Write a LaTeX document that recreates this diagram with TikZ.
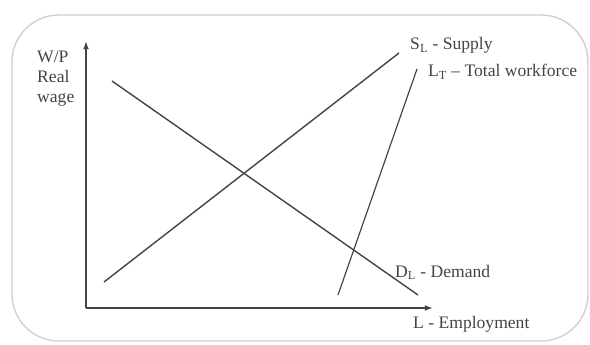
\documentclass[tikz,border=0pt]{standalone}
\usepackage{fontspec}
\setmainfont{Liberation Serif}
\usetikzlibrary{arrows.meta}
\definecolor{inkgray}{HTML}{444444}
\definecolor{framegray}{HTML}{D0D0D0}
\tikzset{
  curveline/.style={draw=inkgray, line width=1.2pt},
  axisline/.style={draw=inkgray, line width=1.2pt, -{Latex[length=7pt,width=5pt]}},
  curvelabel/.style={anchor=base west, inner sep=0pt, text=inkgray,
    font=\fontsize{15}{17}\selectfont}
}
\begin{document}
\begin{tikzpicture}[x={(0.03cm,0)}, y={(0,-0.03cm)}]

\useasboundingbox (0,0) rectangle (590,345);

% cadre
\draw[framegray, line width=1.2pt, rounded corners=40]
(12,15)
rectangle
(588,341);

\coordinate (origin) at (86,308);
\coordinate (ytip) at (86,41);
\coordinate (xtip) at (433,308);

\draw[axisline]
(origin)
--
(ytip);

\draw[axisline]
(origin)
--
(xtip);

% courbes
\coordinate (supplylow) at (104,282);
\coordinate (supplyhigh) at (399,53);
\coordinate (demandhigh) at (112,81);
\coordinate (demandlow) at (418,295);
\coordinate (workforcelow) at (338,295);
\coordinate (workforcehigh) at (417,69);

\draw[curveline]
(supplylow)
--
(supplyhigh);

\draw[curveline]
(demandhigh)
--
(demandlow);

\draw[curveline, line width=1pt]
(workforcelow)
--
(workforcehigh);

\node[curvelabel] (wp)
at (37,63)
{W/P};

\node[curvelabel] (real)
at (37,83)
{Real};

\node[curvelabel] (wage)
at (37,103)
{wage};

\node[curvelabel] (supply)
at (410,50)
{S\textsubscript{L} - Supply};

\node[curvelabel] (workforce)
at (428,77)
{L\textsubscript{T} – Total workforce};

\node[curvelabel] (demand)
at (395,277)
{D\textsubscript{L} - Demand};

\node[curvelabel] (employment)
at (413,328)
{L - Employment};

\end{tikzpicture}
\end{document}
